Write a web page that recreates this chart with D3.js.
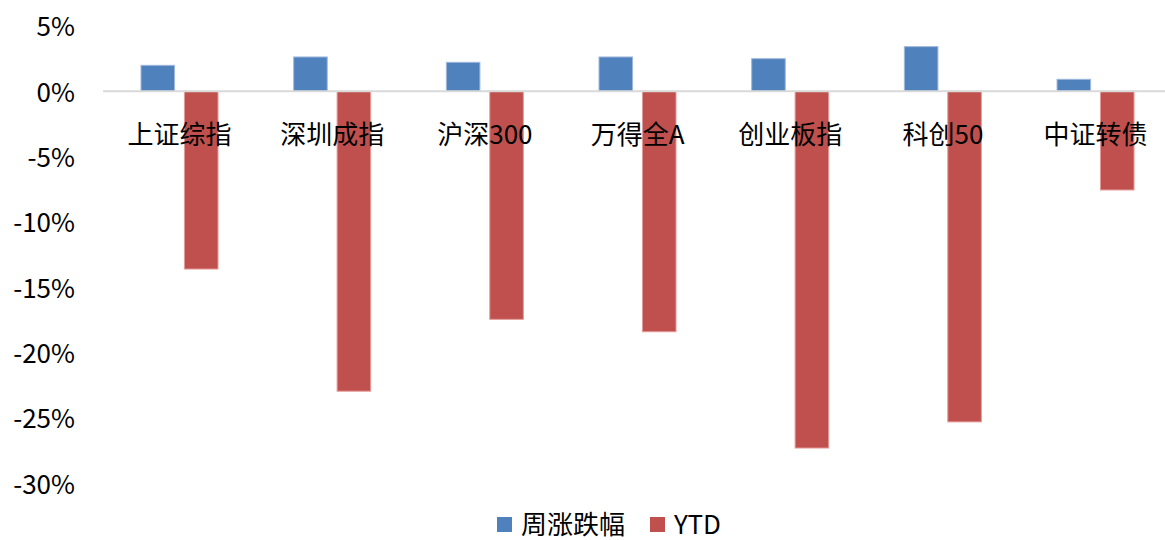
<!DOCTYPE html>
<html>
<head>
<meta charset="utf-8">
<script src="https://cdn.jsdelivr.net/npm/d3@7"></script>
<style>
  body { margin: 0; background: #fff; }
  text { font-family: "Noto Sans CJK SC", "Noto Sans", sans-serif; fill: #000; }
</style>
</head>
<body>
<div id="chart"></div>
<script>
// Data
const categories = ["上证综指", "深圳成指", "沪深300", "万得全A", "创业板指", "科创50", "中证转债"];
const weekly = [1.99, 2.63, 2.22, 2.63, 2.5, 3.42, 0.92];
const ytd = [-13.6, -22.95, -17.45, -18.4, -27.3, -25.3, -7.55];
const seriesNames = ["周涨跌幅", "YTD"];
const yTicks = [5, 0, -5, -10, -15, -20, -25, -30];

const colors = ["#4f81bd", "#c0504d"];
const strokes = ["#9fb8db", "#e39a98"];

const W = 1165, H = 540;
const svg = d3.select("#chart").append("svg")
  .attr("width", W).attr("height", H);

// Scales
const x = d3.scaleBand().domain(categories).range([103.2, 1171.9]);
const x1 = d3.scaleBand().domain(seriesNames).range([37.8, 114.8]).paddingInner(0.227);
const y = d3.scaleLinear().domain([-30, 5]).range([483.3, 26]);

// Y axis labels
const yAxis = svg.append("g")
  .attr("transform", "translate(75,0)")
  .call(d3.axisLeft(y).tickValues(yTicks).tickSize(0).tickPadding(0).tickFormat(d => d + "%"));
yAxis.select(".domain").remove();
yAxis.selectAll("text")
  .style("font-size", "26px")
  .attr("dy", "0.38em");

// Bars
const data = categories.map((c, i) => ({ cat: c, vals: [weekly[i], ytd[i]] }));
const groups = svg.selectAll(".grp").data(data).enter().append("g")
  .attr("transform", d => `translate(${x(d.cat)},0)`);

groups.selectAll("rect")
  .data(d => d.vals.map((v, j) => ({ v, j })))
  .enter().append("rect")
  .attr("x", d => x1(seriesNames[d.j]))
  .attr("width", x1.bandwidth())
  .attr("y", d => y(Math.max(0, d.v)))
  .attr("height", d => Math.abs(y(d.v) - y(0)))
  .attr("fill", d => colors[d.j])
  .attr("stroke", d => strokes[d.j])
  .attr("stroke-width", 1);

// Zero line
svg.append("line")
  .attr("x1", 103).attr("x2", W)
  .attr("y1", y(0)).attr("y2", y(0))
  .attr("stroke", "#d9d9d9").attr("stroke-width", 2);

// Category labels (low position, below zero line)
svg.append("g").selectAll("text").data(categories).enter().append("text")
  .attr("x", d => x(d) + x.bandwidth() / 2)
  .attr("y", 135)
  .attr("dy", "0.36em")
  .attr("text-anchor", "middle")
  .style("font-size", "26px")
  .text(d => d);

// Legend
const legendX = [497, 650];
const legend = svg.append("g").selectAll("g").data(seriesNames).enter().append("g")
  .attr("transform", (d, i) => `translate(${legendX[i]},525)`);
legend.append("rect")
  .attr("x", 0).attr("y", -8).attr("width", 15).attr("height", 15)
  .attr("fill", (d, i) => colors[i]);
legend.append("text")
  .attr("x", 24).attr("dy", "0.36em")
  .style("font-size", "26px")
  .text(d => d);
</script>
</body>
</html>
